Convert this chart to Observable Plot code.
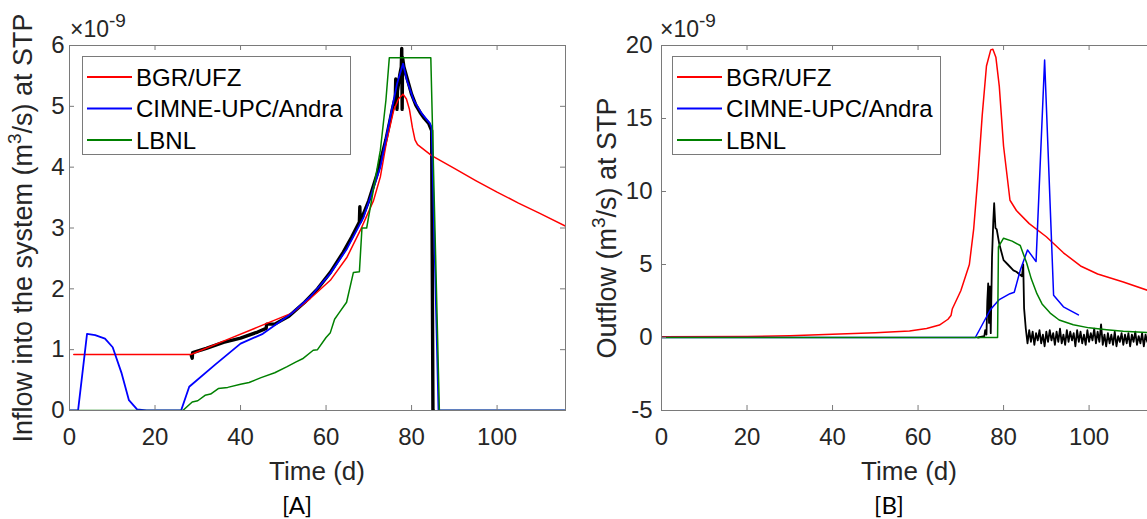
<!DOCTYPE html>
<html><head><meta charset="utf-8">
<script src="https://cdn.jsdelivr.net/npm/d3@7"></script>
<script src="https://cdn.jsdelivr.net/npm/@observablehq/plot@0.6"></script>
<style>
html,body{margin:0;padding:0;background:#fff;overflow:hidden;}
#wrap{position:relative;width:1147px;height:519px;overflow:hidden;background:#fff;}
.panel{position:absolute;top:0;}
.panel svg{max-width:none !important;background:transparent;}
#overlay{position:absolute;left:0;top:0;}
</style></head><body><div id="wrap"></div>
<script>
// ---------- Data (values in units of 1e-9 m3/s) ----------
const seriesNames = ["BGR/UFZ", "CIMNE-UPC/Andra", "LBNL"];
const seriesColors = ["#ff0000", "#0000ff", "#008000"];
const xTicks = [0, 20, 40, 60, 80, 100];
const yTicksA = [0, 1, 2, 3, 4, 5, 6];
const yTicksB = [-5, 0, 5, 10, 15, 20];

// Panel A: inflow
const aRedT = [1, 28.4, 36, 44, 52, 56.3, 61, 64.9, 68, 71.1, 72.7, 74.2, 75.8, 77, 78, 78.8, 79.5, 80.2, 80.8, 81.4, 84.7, 90, 95, 100, 105, 110, 116];
const aRedV = [0.92, 0.92, 1.14, 1.37, 1.6, 1.84, 2.14, 2.52, 2.96, 3.45, 3.84, 4.44, 4.93, 5.13, 5.2, 5.12, 4.95, 4.65, 4.45, 4.37, 4.19, 3.98, 3.78, 3.59, 3.41, 3.24, 3.03];
const aBlueT = [0, 2, 4.1, 6, 8.3, 10.1, 12.2, 13.9, 15.8, 18, 26.1, 28, 34, 40, 45.2, 52, 56.3, 61, 64.9, 68.8, 72.7, 75, 76.6, 78, 78.9, 80.5, 82.4, 84.3, 84.7, 86.3, 116];
const aBlueV = [0, 0, 1.26, 1.24, 1.18, 1.04, 0.61, 0.17, 0.02, 0, 0, 0.39, 0.75, 1.1, 1.26, 1.6, 1.87, 2.25, 2.66, 3.18, 4.0, 4.82, 5.37, 5.7, 5.43, 5.1, 4.88, 4.72, 4.65, 0, 0];
const aGreenT = [0, 26.5, 28.7, 30, 31.7, 33, 34.8, 37, 40, 42, 44.8, 48, 50.9, 53, 54.5, 57, 58, 60, 61, 62, 63, 64.8, 66.4, 67.8, 68.4, 69.5, 71, 72.7, 74, 74.8, 84.5, 86.5, 116];
const aGreenV = [0, 0, 0.14, 0.16, 0.25, 0.27, 0.36, 0.38, 0.43, 0.46, 0.54, 0.62, 0.72, 0.8, 0.85, 0.99, 1.0, 1.2, 1.28, 1.5, 1.6, 1.78, 2.27, 2.28, 3.0, 3.0, 3.6, 4.28, 5.1, 5.8, 5.8, 0, 0];
const aBlackT = [28.5, 28.7, 28.8, 32, 36, 40, 44, 46, 46.1, 48, 51.3, 55, 58, 61, 64, 66, 67.8, 67.9, 68, 70, 72, 74, 75.5, 76.2, 76.3, 76.6, 76.7, 77.2, 77.6, 77.7, 77.8, 77.9, 78.2, 79, 80, 81, 82, 83, 84, 84.7, 85, 85.1];
const aBlackV = [0.9, 0.86, 0.95, 1.02, 1.12, 1.19, 1.29, 1.35, 1.42, 1.42, 1.55, 1.78, 2.0, 2.27, 2.6, 2.85, 3.1, 3.35, 3.1, 3.45, 3.9, 4.45, 4.95, 5.15, 5.45, 4.95, 5.25, 5.5, 5.65, 5.95, 4.95, 5.8, 5.65, 5.45, 5.2, 5.02, 4.9, 4.8, 4.72, 4.6, 0, 0];

// Panel B: outflow
const bRedT = [0, 20, 30, 40, 50, 58, 62, 65, 67, 67.7, 68, 70, 72, 73, 74, 75, 76, 77, 77.5, 78.2, 79, 80, 81.5, 83, 86, 90, 94, 98, 102, 108, 116];
const bRedV = [0.05, 0.07, 0.12, 0.22, 0.33, 0.45, 0.62, 0.85, 1.25, 1.5, 1.95, 3.2, 5.0, 7.4, 11, 15.2, 18.6, 19.7, 19.75, 19.2, 17.2, 13.1, 9.4, 8.7, 7.8, 6.9, 5.8, 4.9, 4.35, 3.8, 3.0];
const bBlueT = [0, 73.4, 76.9, 79, 81.5, 82.5, 83.9, 85.6, 87.6, 89.6, 91.7, 94, 97.5];
const bBlueV = [0, 0, 1.9, 2.6, 3.0, 3.1, 4.6, 6.0, 5.2, 19.0, 2.9, 2.1, 1.55];
const bGreenT = [0, 78.6, 78.8, 80, 82, 83.9, 85.4, 86.5, 87.8, 89, 90.9, 93, 96.3, 100, 104.1, 108, 116];
const bGreenV = [0, 0, 6.2, 6.8, 6.6, 6.3, 5.1, 4.0, 3.0, 2.3, 1.67, 1.2, 0.87, 0.66, 0.53, 0.43, 0.3];
const bBlackT = [74, 75.5, 75.7, 76, 76.2, 76.4, 76.6, 76.8, 77, 77.3, 77.6, 77.8, 78.1, 78.4, 79, 80, 81, 82.3, 83, 84.3, 84.6, 84.8,
  85.2,85.6,86,86.4,86.8,87.2,87.6,88,88.4,88.8,89.2,89.6,90,90.4,90.8,91.2,91.6,92,92.4,92.8,93.2,93.6,94,94.4,94.8,95.2,95.6,96,96.4,96.8,97.2,97.6,98,98.4,98.8,99.2,99.6,100,100.4,100.8,101.2,101.6,102,102.4,102.8,103.2,103.6,104,104.4,104.8,105.2,105.6,106,106.4,106.8,107.2,107.6,108,108.4,108.8,109.2,109.6,110,110.4,110.8,111.2,111.6,112,112.4,112.8,113.2,113.6,114,114.4,114.8,115.2,115.6,116];
const bBlackV = [0, 0.1, 0.5, 0.2, 2.5, 3.7, 1.0, 3.5, 0.3, 5.5, 8.0, 9.2, 7.5, 7.4, 6.4, 5.3, 5.0, 4.6, 4.5, 4.2, 5.0, 2.0,
  0.6,-0.4,0.5,-0.3,0.4,-0.5,0.3,-0.2,0.5,-0.4,
  0.2,-0.6,0.4,-0.3,0.5,-0.2,0.3,-0.5,0.4,-0.3,
  0.6,-0.4,0.2,-0.5,0.5,-0.3,0.4,-0.2,0.3,-0.6,
  0.5,-0.3,0.4,-0.4,0.2,-0.5,0.5,-0.3,0.3,-0.2,
  0.6,-0.4,0.4,-0.3,0.9,-0.5,0.2,-0.6,0.3,-0.4,
  0.2,-0.5,0.4,-0.6,0.1,-0.3,0.3,-0.5,0.2,-0.4,
  0.3,-0.6,0.2,-0.3,0.4,-0.5,0.1,-0.4,0.3,-0.6,
  0.2,-0.3,0.3,-0.5,0.1,-0.4,0.2,-0.5];

// ---------- Helpers ----------
const zip = (T, V) => T.slice(0, Math.min(T.length, V.length)).map((t, i) => ({t, v: V[i]}));
const AX = "#7a7a7a", TXT = "#262626";
const FONT = "'Liberation Sans', Arial, Helvetica, sans-serif";
const PW = 496, PH = 365, MT = 45, MB = 60, SVGH = MT + PH + MB;

function makePanel({left, marginLeft, marginRight, ydomain, yticks, ypad, lines}) {
  const chart = Plot.plot({
    width: marginLeft + PW + marginRight, height: SVGH,
    marginLeft, marginRight, marginTop: MT, marginBottom: MB,
    x: {domain: [0, 116]}, y: {domain: ydomain},
    style: {fontFamily: FONT, fontSize: "24px", color: TXT, background: "transparent", overflow: "visible"},
    marks: [
      ...lines.map(s => Plot.line(s.data, {x: "t", y: "v", stroke: s.color, strokeWidth: s.w, clip: true})),
      Plot.frame({stroke: AX, strokeWidth: 1}),
      Plot.tickX(xTicks, {x: d => d, stroke: AX, insetTop: PH - 5}),
      Plot.tickX(xTicks, {x: d => d, stroke: AX, insetBottom: PH - 5}),
      Plot.tickY(yticks, {y: d => d, stroke: AX, insetRight: PW - 5}),
      Plot.tickY(yticks, {y: d => d, stroke: AX, insetLeft: PW - 5}),
      Plot.axisX(xTicks, {tickSize: 0, tickPadding: 17, fontSize: 24, fill: TXT, label: null, tickFormat: d => String(d)}),
      Plot.axisY(yticks, {tickSize: 0, tickPadding: ypad, fontSize: 24, fill: TXT, label: null, tickFormat: d => String(d)})
    ]
  });
  const div = document.createElement("div");
  div.className = "panel";
  div.style.left = left + "px";
  div.appendChild(chart);
  document.getElementById("wrap").appendChild(div);
}

makePanel({
  left: 0, marginLeft: 69, marginRight: 15, ydomain: [0, 6], yticks: yTicksA, ypad: 5,
  lines: [
    {data: zip(aBlackT, aBlackV), color: "#000", w: 3.4},
    {data: zip(aRedT, aRedV), color: seriesColors[0], w: 1.5},
    {data: zip(aBlueT, aBlueV), color: seriesColors[1], w: 1.8},
    {data: zip(aGreenT, aGreenV), color: seriesColors[2], w: 1.5}
  ]
});
makePanel({
  left: 580, marginLeft: 81, marginRight: 23, ydomain: [-5, 20], yticks: yTicksB, ypad: 9,
  lines: [
    {data: zip(bBlackT, bBlackV), color: "#000", w: 1.8},
    {data: zip(bRedT, bRedV), color: seriesColors[0], w: 1.5},
    {data: zip(bBlueT, bBlueV), color: seriesColors[1], w: 1.5},
    {data: zip(bGreenT, bGreenV), color: seriesColors[2], w: 1.5}
  ]
});

// ---------- Overlay: titles, exponents, legends, panel tags ----------
const svg = d3.select("#wrap").append("svg").attr("id", "overlay")
  .attr("width", 1147).attr("height", 519).style("font-family", FONT);

function yTitle(x, y, pre, post) {
  const t = svg.append("text").attr("transform", `translate(${x},${y}) rotate(-90)`)
    .attr("text-anchor", "middle").attr("font-size", 27).attr("fill", TXT);
  t.append("tspan").text(pre);
  t.append("tspan").attr("dy", -11).attr("font-size", 19).text("3");
  t.append("tspan").attr("dy", 11).text(post);
}
yTitle(32, 228, "Inflow into the system (m", "/s) at STP");
yTitle(616, 228, "Outflow (m", "/s) at STP");

function expo(x) {
  const t = svg.append("text").attr("x", x).attr("y", 37).attr("font-size", 23).attr("fill", TXT);
  t.append("tspan").text("\u00d710");
  t.append("tspan").attr("dy", -10).attr("font-size", 19).text("-9");
}
expo(70); expo(660);

[[317, "[A]", 297], [909, "[B]", 889]].forEach(([cx, tag, tx]) => {
  svg.append("text").attr("x", cx).attr("y", 480).attr("text-anchor", "middle")
    .attr("font-size", 26).attr("fill", TXT).text("Time (d)");
  svg.append("text").attr("x", tx).attr("y", 514).attr("text-anchor", "middle")
    .attr("font-family", "Lato, 'Open Sans', sans-serif").attr("font-size", 24).attr("fill", "#000").text(tag);
});

function legend(bx) {
  const by = 56;
  svg.append("rect").attr("x", bx + 0.5).attr("y", by + 0.5).attr("width", 268).attr("height", 98)
    .attr("fill", "#fff").attr("stroke", AX);
  seriesNames.forEach((name, i) => {
    const ry = by + 21 + i * 31.5;
    svg.append("line").attr("x1", bx + 5).attr("x2", bx + 50).attr("y1", ry).attr("y2", ry)
      .attr("stroke", seriesColors[i]).attr("stroke-width", 1.8);
    svg.append("text").attr("x", bx + 54).attr("y", ry + 8.5).attr("font-size", 24).attr("fill", "#000").text(name);
  });
}
legend(82); legend(672);
</script>
</body></html>
